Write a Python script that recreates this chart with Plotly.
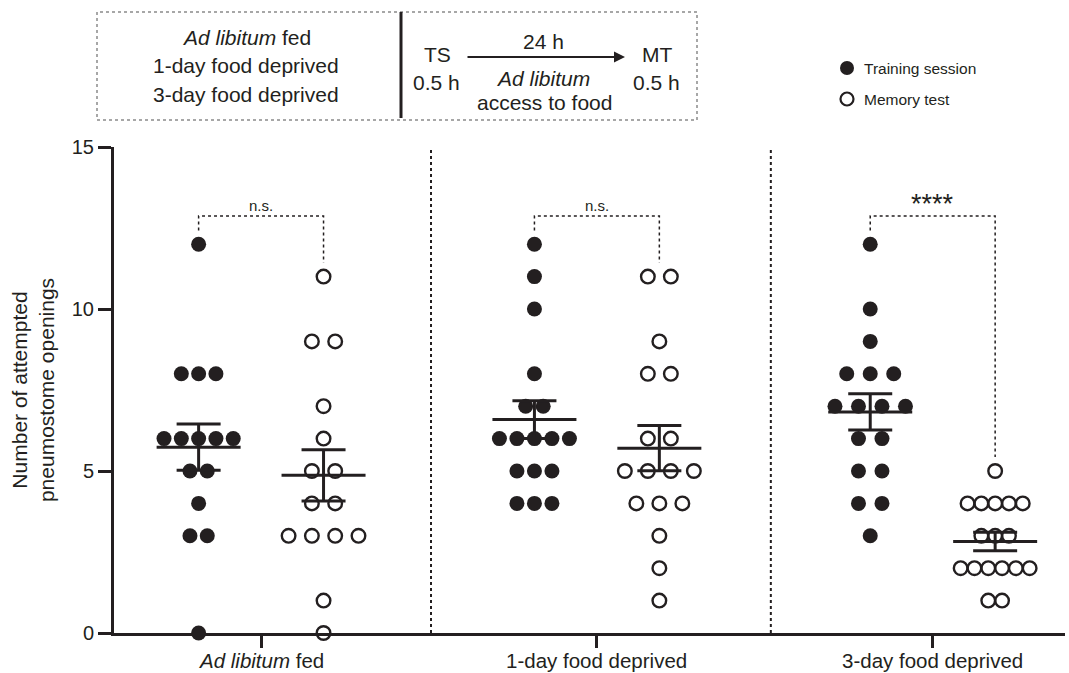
import numpy as np
import plotly.graph_objects as go

# ---------------- data ----------------
group_labels = ["<i>Ad libitum</i> fed", "1-day food deprived", "3-day food deprived"]
training_adlib = [12, 8, 8, 8, 6, 6, 6, 6, 6, 5, 5, 4, 3, 3, 0]
memory_adlib = [11, 9, 9, 7, 6, 5, 5, 4, 4, 3, 3, 3, 3, 1, 0]
training_1day = [12, 11, 10, 8, 7, 7, 6, 6, 6, 6, 6, 5, 5, 5, 4, 4, 4]
memory_1day = [11, 11, 9, 8, 8, 6, 6, 5, 5, 5, 5, 4, 4, 4, 3, 2, 1]
training_3day = [12, 10, 9, 8, 8, 8, 7, 7, 7, 7, 6, 6, 5, 5, 4, 4, 3]
memory_3day = [5, 4, 4, 4, 4, 4, 3, 3, 3, 2, 2, 2, 2, 2, 2, 1, 1]
y_tick_values = [0, 5, 10, 15]
significance = ["n.s.", "n.s.", "****"]

# ---------------- style ----------------
INK = "#231f20"
FONT = "Liberation Sans, Arial, sans-serif"
W, H = 1069, 673
ML, MR, MT, MB = 114, 4, 147, 40
PLOT_W = W - ML - MR
PLOT_H = H - MT - MB
X_RANGE = [-0.438, 2.394]
PX_PER_UNIT = PLOT_W / (X_RANGE[1] - X_RANGE[0])
OFFSET = 0.186                       # column offset from group centre
spacing_px = [17.3, 23.3, 17.5, 23.0, 23.5, 13.8]   # beeswarm spacing per column

def px_x(px):
    return (px - ML) / PLOT_W

def px_y(py):
    return (MT + PLOT_H - py) / PLOT_H

def swarm(values, centre, spacing):
    vals = np.asarray(values, dtype=float)
    xs = np.zeros(len(vals))
    for v in np.unique(vals):
        idx = np.where(vals == v)[0]
        n = len(idx)
        for k, i in enumerate(idx):
            xs[i] = centre + (k - (n - 1) / 2) * spacing / PX_PER_UNIT
    return xs, vals

columns = [
    (training_adlib, 0, -1), (memory_adlib, 0, 1),
    (training_1day, 1, -1), (memory_1day, 1, 1),
    (training_3day, 2, -1), (memory_3day, 2, 1),
]

fig = go.Figure()

for ci, (vals, g, side) in enumerate(columns):
    centre = g + side * OFFSET
    xs, ys = swarm(vals, centre, spacing_px[ci])
    filled = side < 0
    fig.add_trace(go.Scatter(
        x=xs, y=ys, mode="markers", cliponaxis=False, showlegend=False,
        marker=dict(
            symbol="circle" if filled else "circle-open",
            size=15 if filled else 13.6,
            color=INK,
            line=dict(width=0 if filled else 2.4, color=INK),
        ),
        hoverinfo="y",
    ))

# mean +/- SEM
mx, my = [], []
for vals, g, side in columns:
    centre = g + side * OFFSET
    a = np.asarray(vals, dtype=float)
    m = a.mean()
    sem = a.std(ddof=1) / np.sqrt(len(a))
    hw = 42 / PX_PER_UNIT
    cw = 22 / PX_PER_UNIT
    mx += [centre - hw, centre + hw, None,
           centre, centre, None,
           centre - cw, centre + cw, None,
           centre - cw, centre + cw, None]
    my += [m, m, None, m - sem, m + sem, None,
           m + sem, m + sem, None, m - sem, m - sem, None]
fig.add_trace(go.Scatter(x=mx, y=my, mode="lines", showlegend=False,
                         line=dict(color=INK, width=3), hoverinfo="skip",
                         cliponaxis=False))

# significance brackets
BR_TOP = 12.87
for g, lab in enumerate(significance):
    ts_vals = columns[2 * g][0]
    mt_vals = columns[2 * g + 1][0]
    x0, x1 = g - OFFSET, g + OFFSET
    fig.add_trace(go.Scatter(
        x=[x0, x0, x1, x1],
        y=[max(ts_vals) + 0.42, BR_TOP, BR_TOP, max(mt_vals) + 0.43],
        mode="lines", showlegend=False, hoverinfo="skip", cliponaxis=False,
        line=dict(color=INK, width=1.5, dash="dot"),
    ))
    big = lab == "****"
    fig.add_annotation(x=g, y=BR_TOP, yshift=12 if big else 11,
                       text=lab, showarrow=False,
                       font=dict(size=27 if big else 15, color=INK,
                                 family=FONT))

# category labels under the x axis
for g, lab in enumerate(group_labels):
    fig.add_annotation(x=g, xref="x", yref="paper", y=px_y(660), text=lab,
                       showarrow=False, yanchor="middle",
                       font=dict(size=20.5, color=INK, family=FONT))

shapes = []
# group separators
for sx in [0.506, 1.518]:
    shapes.append(dict(type="line", xref="x", yref="paper", x0=sx, x1=sx,
                       y0=0, y1=1, line=dict(color=INK, width=2, dash="dot")))

# top protocol box
shapes.append(dict(type="rect", xref="paper", yref="paper",
                   x0=px_x(97), x1=px_x(697), y0=px_y(120), y1=px_y(12),
                   line=dict(color="#8a8a8a", width=1.5, dash="dot")))
shapes.append(dict(type="line", xref="paper", yref="paper",
                   x0=px_x(401), x1=px_x(401), y0=px_y(118), y1=px_y(12),
                   line=dict(color=INK, width=3)))

# legend symbols
shapes.append(dict(type="circle", xref="paper", yref="paper",
                   xsizemode="pixel", ysizemode="pixel",
                   xanchor=px_x(847), yanchor=px_y(68),
                   x0=-7, x1=7, y0=-7, y1=7, fillcolor=INK, line=dict(width=0)))
shapes.append(dict(type="circle", xref="paper", yref="paper",
                   xsizemode="pixel", ysizemode="pixel",
                   xanchor=px_x(847), yanchor=px_y(99),
                   x0=-6.5, x1=6.5, y0=-6.5, y1=6.5,
                   line=dict(color=INK, width=2.2)))

def txt(x, y, s, size=21, xanchor="center"):
    fig.add_annotation(xref="paper", yref="paper", x=px_x(x), y=px_y(y),
                       text=s, showarrow=False, xanchor=xanchor, yanchor="middle",
                       font=dict(size=size, color=INK, family=FONT))

txt(862, 68, "Training session", size=15.5, xanchor="left")
txt(862, 99, "Memory test", size=15.5, xanchor="left")

BOX_FONT = 21
txt(246, 38, "<i>Ad libitum</i> fed", size=BOX_FONT)
txt(246, 66, "1-day food deprived", size=BOX_FONT)
txt(246, 94, "3-day food deprived", size=BOX_FONT)
txt(437, 55, "TS", size=BOX_FONT)
txt(436, 82, "0.5 h", size=BOX_FONT)
txt(657, 55, "MT", size=BOX_FONT)
txt(656, 82, "0.5 h", size=BOX_FONT)
txt(543, 41, "24 h", size=BOX_FONT)
txt(543, 79, "<i>Ad libitum</i>", size=BOX_FONT)
txt(544, 103, "access to food", size=BOX_FONT)
fig.add_annotation(xref="paper", yref="paper", x=px_x(625), y=px_y(57),
                   ax=-(625 - 466), ay=0, showarrow=True, arrowhead=2,
                   arrowsize=1.1, arrowwidth=2, arrowcolor=INK, text="")

fig.update_layout(
    width=W, height=H,
    margin=dict(l=ML, r=MR, t=MT, b=MB),
    paper_bgcolor="white", plot_bgcolor="white",
    font=dict(family=FONT, color=INK, size=20),
    shapes=shapes,
    showlegend=False,
    xaxis=dict(
        range=X_RANGE, tickmode="array", tickvals=[0, 1, 2],
        showticklabels=False,
        showgrid=False, zeroline=False, showline=True, linecolor=INK, linewidth=3,
        ticks="outside", ticklen=12, tickwidth=3, tickcolor=INK, automargin=False,
    ),
    yaxis=dict(
        range=[0, 15], tickmode="array", tickvals=y_tick_values,
        showgrid=False, zeroline=False, showline=True, linecolor=INK, linewidth=3,
        ticks="outside", ticklen=13, tickwidth=3, tickcolor=INK,
        tickfont=dict(size=20, color=INK, family=FONT), automargin=False,
        title=dict(text="Number of attempted<br>pneumostome openings",
                   font=dict(size=21, color=INK, family=FONT), standoff=12),
    ),
)

fig.write_html("out.html", config={"displayModeBar": False},
               post_script="document.body.style.margin='0px';document.body.style.overflow='hidden';")
